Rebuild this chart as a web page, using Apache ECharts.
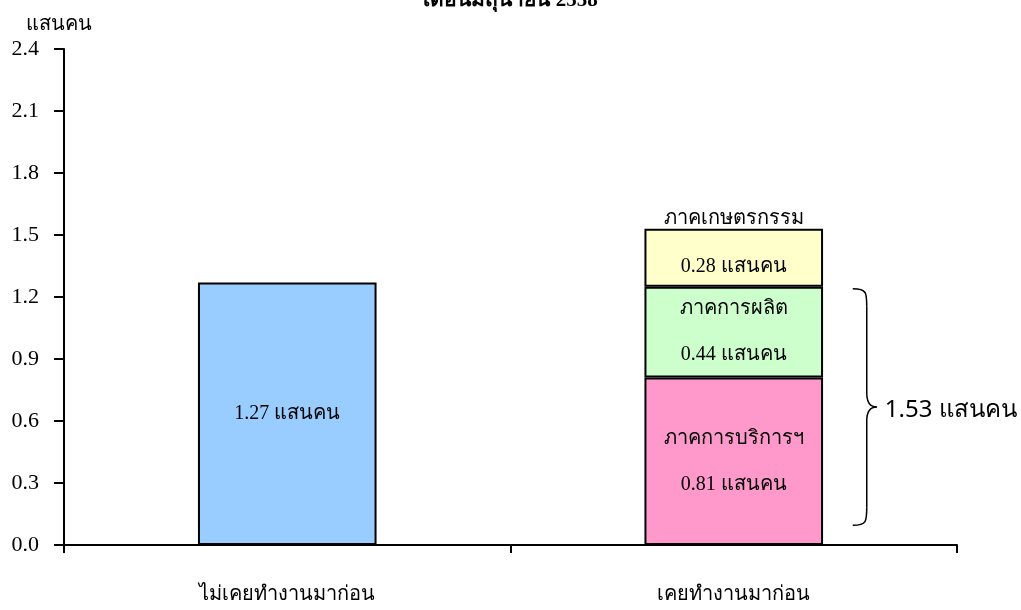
<!DOCTYPE html>
<html>
<head>
<meta charset="utf-8">
<script src="https://cdn.jsdelivr.net/npm/echarts@6/dist/echarts.min.js"></script>
<style>html,body{margin:0;padding:0;background:#fff}#c{width:1021px;height:610px}</style>
</head>
<body>
<div id="c"></div>
<script>
var categories = ['ไม่เคยทำงานมาก่อน', 'เคยทำงานมาก่อน'];
var neverWorked = [1.27, '-'];
var services = ['-', 0.81];
var manufacturing = ['-', 0.44];
var agriculture = ['-', 0.28];
var sectorNames = ['ภาคการบริการฯ', 'ภาคการผลิต', 'ภาคเกษตรกรรม'];
var braceRange = [1.24, 0.095];
var braceLabel = '1.53 แสนคน';
var unit = 'แสนคน';
var titleText = 'เดือนมิถุนายน 2558';

var serif = '"Liberation Serif","DejaVu Serif",serif';
var chart = echarts.init(document.getElementById('c'));
function lbl(fmt, extra) {
  return Object.assign({
    show: true, position: 'inside', color: '#000', fontFamily: serif, fontSize: 20,
    lineHeight: 46, formatter: fmt
  }, extra || {});
}
var barBase = { type: 'bar', stack: 'a', barWidth: '40%' };
chart.setOption({
  animation: false,
  title: { text: titleText, left: 'center', top: -15, textStyle: { fontFamily: serif, fontSize: 21, fontWeight: 'bold', color: '#000' } },
  grid: { left: 64, right: 64, top: 49, bottom: 65 },
  xAxis: {
    type: 'category', data: categories,
    axisLine: { lineStyle: { color: '#000', width: 2 } },
    axisTick: { show: true, alignWithLabel: false, length: 8, lineStyle: { color: '#000', width: 2 } },
    axisLabel: { color: '#000', fontFamily: serif, fontSize: 20, margin: 40 }
  },
  yAxis: {
    type: 'value', min: 0, max: 2.4, interval: 0.3,
    name: unit, nameLocation: 'end', nameGap: 14,
    nameTextStyle: { color: '#000', fontFamily: serif, fontSize: 20, align: 'center', padding: [0, 10, 0, 0] },
    axisLine: { show: true, lineStyle: { color: '#000', width: 2 } },
    axisTick: { show: true, length: 10, lineStyle: { color: '#000', width: 2 } },
    splitLine: { show: false },
    axisLabel: { color: '#000', fontFamily: serif, fontSize: 22, margin: 25, formatter: function (v) { return v.toFixed(1); } }
  },
  series: [
    Object.assign({}, barBase, { name: categories[0], data: neverWorked, itemStyle: { color: '#99CCFF', borderColor: '#000', borderWidth: 2 },
      label: lbl(function (p) { return p.value + ' ' + unit; }) }),
    Object.assign({}, barBase, { name: sectorNames[0], data: services, itemStyle: { color: '#FF99CC', borderColor: '#000', borderWidth: 2 },
      label: lbl(function (p) { return sectorNames[0] + '\n' + p.value + ' ' + unit; }) }),
    Object.assign({}, barBase, { name: sectorNames[1], data: manufacturing, itemStyle: { color: '#CCFFCC', borderColor: '#000', borderWidth: 2 },
      label: lbl(function (p) { return sectorNames[1] + '\n' + p.value + ' ' + unit; }) }),
    Object.assign({}, barBase, { name: sectorNames[2], data: agriculture, itemStyle: { color: '#FFFFCC', borderColor: '#000', borderWidth: 2 },
      label: lbl(function (p) { return sectorNames[2] + '\n' + p.value + ' ' + unit; }, { offset: [0, -15], lineHeight: 48 }) })
  ]
});

var cx = chart.convertToPixel({ xAxisIndex: 0 }, categories[1]);
var yt = chart.convertToPixel({ yAxisIndex: 0 }, braceRange[0]);
var yb = chart.convertToPixel({ yAxisIndex: 0 }, braceRange[1]);
var ym = (yt + yb) / 2;
var x0 = cx + 119, xv = x0 + 14, x1 = x0 + 24;
var st = { fill: null, stroke: '#000', lineWidth: 1.5 };
function bz(a, b, c, d, e, f, g, h) {
  return { type: 'bezierCurve', shape: { x1: a, y1: b, cpx1: c, cpy1: d, cpx2: e, cpy2: f, x2: g, y2: h }, style: st };
}
chart.setOption({
  graphic: [
    bz(x0, yt, xv, yt, xv, yt + 4, xv, yt + 18),
    { type: 'line', shape: { x1: xv, y1: yt + 18, x2: xv, y2: ym - 14 }, style: st },
    bz(xv, ym - 14, xv, ym - 4, xv + 4, ym, x1, ym),
    bz(x1, ym, xv + 4, ym, xv, ym + 4, xv, ym + 14),
    { type: 'line', shape: { x1: xv, y1: ym + 14, x2: xv, y2: yb - 18 }, style: st },
    bz(xv, yb - 18, xv, yb - 4, xv, yb, x0, yb),
    { type: 'text', x: x1 + 8, y: ym + 3, style: { text: braceLabel, fill: '#000', font: '24px "Noto Sans","DejaVu Sans",sans-serif', textVerticalAlign: 'middle' } }
  ]
});
</script>
</body>
</html>
